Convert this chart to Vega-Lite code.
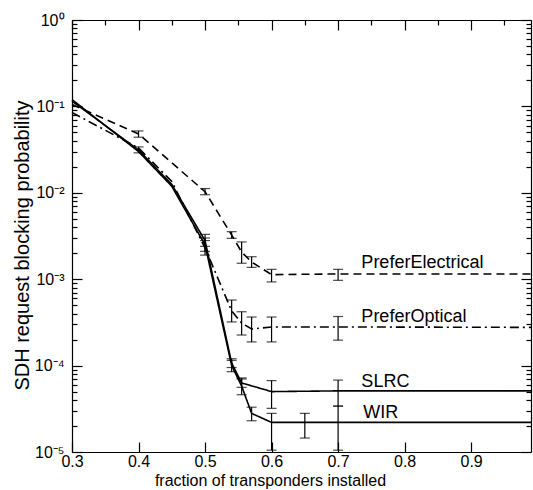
{
  "$schema": "https://vega.github.io/schema/vega-lite/v6.json",
  "width": 459,
  "height": 432,
  "autosize": "none",
  "padding": {"left": 72, "top": 20, "right": 2, "bottom": 38},
  "background": "white",
  "config": {
    "view": {"stroke": null},
    "font": "Liberation Sans",
    "axis": {"domainColor": "black", "tickColor": "black", "labelColor": "black", "titleColor": "black", "labelFont": "Liberation Sans", "titleFont": "Liberation Sans", "titleFontWeight": "normal", "grid": false, "labelFontSize": 16, "domainWidth": 1.2, "tickWidth": 1.2}
  },
  "datasets": {
    "pts": [
      {"series": "PreferElectrical", "x": 0.3, "y": 0.105},
      {"series": "PreferElectrical", "x": 0.4, "y": 0.048, "lo": 0.044, "hi": 0.052},
      {"series": "PreferElectrical", "x": 0.5, "y": 0.0103, "lo": 0.0095, "hi": 0.0112},
      {"series": "PreferElectrical", "x": 0.54, "y": 0.00325, "lo": 0.00297, "hi": 0.00355},
      {"series": "PreferElectrical", "x": 0.555, "y": 0.00206, "lo": 0.00153, "hi": 0.0027},
      {"series": "PreferElectrical", "x": 0.57, "y": 0.00158, "lo": 0.00137, "hi": 0.00182},
      {"series": "PreferElectrical", "x": 0.6, "y": 0.00113, "lo": 0.00093, "hi": 0.0013},
      {"series": "PreferElectrical", "x": 0.7, "y": 0.00115, "lo": 0.00097, "hi": 0.0013},
      {"series": "PreferElectrical", "x": 0.99, "y": 0.00115},
      {"series": "PreferOptical", "x": 0.3, "y": 0.085},
      {"series": "PreferOptical", "x": 0.4, "y": 0.033},
      {"series": "PreferOptical", "x": 0.45, "y": 0.0135},
      {"series": "PreferOptical", "x": 0.5, "y": 0.0023, "lo": 0.0019, "hi": 0.0028},
      {"series": "PreferOptical", "x": 0.54, "y": 0.00043, "lo": 0.00032, "hi": 0.000574},
      {"series": "PreferOptical", "x": 0.555, "y": 0.00031, "lo": 0.000226, "hi": 0.00042},
      {"series": "PreferOptical", "x": 0.57, "y": 0.000265, "lo": 0.000188, "hi": 0.000365},
      {"series": "PreferOptical", "x": 0.6, "y": 0.00028, "lo": 0.000188, "hi": 0.000365},
      {"series": "PreferOptical", "x": 0.7, "y": 0.00028, "lo": 0.000197, "hi": 0.00037},
      {"series": "PreferOptical", "x": 0.99, "y": 0.000277},
      {"series": "SLRC", "x": 0.3, "y": 0.115},
      {"series": "SLRC", "x": 0.4, "y": 0.0313, "lo": 0.029, "hi": 0.034},
      {"series": "SLRC", "x": 0.45, "y": 0.0125},
      {"series": "SLRC", "x": 0.5, "y": 0.0028, "lo": 0.0024, "hi": 0.0033},
      {"series": "SLRC", "x": 0.54, "y": 0.000107, "lo": 0.000095, "hi": 0.00012},
      {"series": "SLRC", "x": 0.555, "y": 0.000063, "lo": 0.000056, "hi": 0.000072},
      {"series": "SLRC", "x": 0.6, "y": 0.00005, "lo": 0.000032, "hi": 0.000067},
      {"series": "SLRC", "x": 0.7, "y": 0.000051, "lo": 0.000034, "hi": 0.000068},
      {"series": "SLRC", "x": 0.99, "y": 0.000051},
      {"series": "WIR", "x": 0.3, "y": 0.12},
      {"series": "WIR", "x": 0.4, "y": 0.03},
      {"series": "WIR", "x": 0.45, "y": 0.0119},
      {"series": "WIR", "x": 0.5, "y": 0.0025, "lo": 0.0021, "hi": 0.003},
      {"series": "WIR", "x": 0.54, "y": 0.0001, "lo": 0.000085, "hi": 0.000115},
      {"series": "WIR", "x": 0.555, "y": 0.000058, "lo": 0.000046, "hi": 0.00007},
      {"series": "WIR", "x": 0.57, "y": 0.000028, "lo": 0.000023, "hi": 0.000033},
      {"series": "WIR", "x": 0.6, "y": 0.000022, "lo": 0.0000105, "hi": 0.000028},
      {"series": "WIR", "x": 0.65, "y": 0.000022, "lo": 0.0000145, "hi": 0.000028},
      {"series": "WIR", "x": 0.7, "y": 0.000022, "lo": 0.0000105, "hi": 0.000034},
      {"series": "WIR", "x": 0.99, "y": 0.000022}
    ],
    "labels": [
      {"label": "PreferElectrical", "x": 0.735, "y": 0.00153},
      {"label": "PreferOptical", "x": 0.735, "y": 0.000368},
      {"label": "SLRC", "x": 0.735, "y": 0.000065},
      {"label": "WIR", "x": 0.738, "y": 0.000028}
    ]
  },
  "layer": [
    {
      "layer": [
        {
          "data": {"name": "pts"},
          "mark": {"type": "line", "color": "black", "strokeWidth": 1.6},
          "encoding": {
            "x": {"field": "x", "type": "quantitative", "title": "fraction of transponders installed", "scale": {"domain": [0.3, 0.99], "nice": false, "zero": false},
              "axis": {"orient": "bottom", "values": [0.3, 0.35, 0.4, 0.45, 0.5, 0.55, 0.6, 0.65, 0.7, 0.75, 0.8, 0.85, 0.9, 0.95],
                "labelExpr": "abs(datum.value*10 - round(datum.value*10)) < 0.01 ? format(datum.value, '.1f') : ''",
                "tickSize": {"condition": {"test": "abs(datum.value*10 - round(datum.value*10)) < 0.01", "value": -10}, "value": -5},
                "labelPadding": 11, "labelFlush": false,
                "title": "fraction of transponders installed", "titleFontSize": 16, "titleX": 198, "titleY": 20}},
            "y": {"field": "y", "type": "quantitative", "title": "SDH request blocking probability", "scale": {"type": "log", "domain": [0.00001, 1], "nice": false},
              "axis": {"orient": "left", "values": [0.00001, 0.00002, 0.00003, 0.00004, 0.00005, 0.00006, 0.00007, 0.00008, 0.00009, 0.0001, 0.0002, 0.0003, 0.0004, 0.0005, 0.0006, 0.0007, 0.0008, 0.0009, 0.001, 0.002, 0.003, 0.004, 0.005, 0.006, 0.007, 0.008, 0.009, 0.01, 0.02, 0.03, 0.04, 0.05, 0.06, 0.07, 0.08, 0.09, 0.1, 0.2, 0.3, 0.4, 0.5, 0.6, 0.7, 0.8, 0.9, 1],
                "labelExpr": "abs(log(datum.value)/LN10 - round(log(datum.value)/LN10)) < 0.001 ? '10' + (round(log(datum.value)/LN10) < 0 ? '⁻' : '') + ['⁰','¹','²','³','⁴','⁵'][abs(round(log(datum.value)/LN10))] : ''",
                "tickSize": {"condition": {"test": "abs(log(datum.value)/LN10 - round(log(datum.value)/LN10)) < 0.001", "value": -10}, "value": -5},
                "labelPadding": 18, "labelFlush": false,
                "title": "SDH request blocking probability", "titleFontSize": 20, "titleX": -50, "titleY": 225, "titleBaseline": "middle"}},
            "strokeDash": {"field": "series", "type": "nominal", "legend": null,
              "scale": {"domain": ["PreferElectrical", "PreferOptical", "SLRC", "WIR"], "range": [[8, 5], [9, 4, 2, 4], [1, 0], [1, 0]]}}
          }
        },
        {
          "data": {"name": "pts"},
          "transform": [{"filter": "isValid(datum.lo)"}],
          "mark": {"type": "errorbar", "color": "black", "ticks": {"size": 10, "color": "black"}, "thickness": 1.2},
          "encoding": {
            "x": {"field": "x", "type": "quantitative", "title": "fraction of transponders installed"},
            "y": {"field": "lo", "type": "quantitative", "title": "SDH request blocking probability"},
            "y2": {"field": "hi"}
          }
        },
        {
          "data": {"name": "labels"},
          "mark": {"type": "text", "align": "left", "baseline": "middle", "fontSize": 18, "font": "Liberation Sans", "color": "black"},
          "encoding": {
            "x": {"field": "x", "type": "quantitative", "title": "fraction of transponders installed"},
            "y": {"field": "y", "type": "quantitative", "title": "SDH request blocking probability"},
            "text": {"field": "label"}
          }
        }
      ]
    },
    {
      "data": {"name": "pts"},
      "mark": {"type": "point", "opacity": 0},
      "encoding": {
        "x": {"field": "x", "type": "quantitative",
          "axis": {"orient": "top", "values": [0.3, 0.35, 0.4, 0.45, 0.5, 0.55, 0.6, 0.65, 0.7, 0.75, 0.8, 0.85, 0.9, 0.95], "labels": false, "title": null,
            "tickSize": {"condition": {"test": "abs(datum.value*10 - round(datum.value*10)) < 0.01", "value": -10}, "value": -5}}},
        "y": {"field": "y", "type": "quantitative",
          "axis": {"orient": "right", "values": [0.00001, 0.00002, 0.00003, 0.00004, 0.00005, 0.00006, 0.00007, 0.00008, 0.00009, 0.0001, 0.0002, 0.0003, 0.0004, 0.0005, 0.0006, 0.0007, 0.0008, 0.0009, 0.001, 0.002, 0.003, 0.004, 0.005, 0.006, 0.007, 0.008, 0.009, 0.01, 0.02, 0.03, 0.04, 0.05, 0.06, 0.07, 0.08, 0.09, 0.1, 0.2, 0.3, 0.4, 0.5, 0.6, 0.7, 0.8, 0.9, 1], "labels": false, "title": null,
            "tickSize": {"condition": {"test": "abs(log(datum.value)/LN10 - round(log(datum.value)/LN10)) < 0.001", "value": -10}, "value": -5}}}
      }
    }
  ],
  "resolve": {"axis": {"x": "independent", "y": "independent"}}
}
